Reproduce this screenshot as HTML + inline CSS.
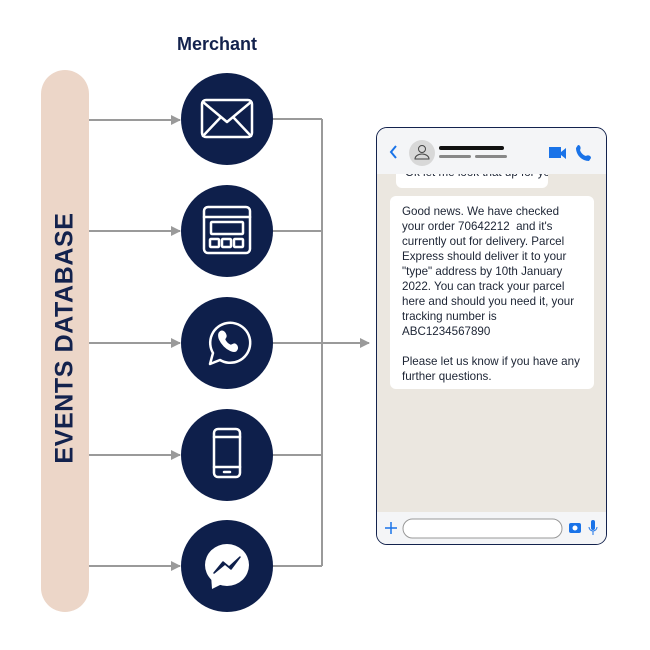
<!DOCTYPE html>
<html><head><style>
body{margin:0;width:650px;height:650px;background:#fff;position:relative;font-family:"Liberation Sans",sans-serif;overflow:hidden}
.bar{position:absolute;left:41px;top:70px;width:48px;height:542px;border-radius:24px;background:#ecd6c8}
.lbl{position:absolute;left:65px;top:338px;transform:translate(-50%,-50%) rotate(-90deg);white-space:nowrap;font-weight:bold;font-size:25px;color:#13224d;letter-spacing:0.6px}
.m{position:absolute;left:177px;top:34px;font-weight:bold;font-size:18px;color:#13224d}
.phone{position:absolute;left:376px;top:127px;width:229px;height:416px;border:1.5px solid #13224d;border-radius:11px;overflow:hidden;background:#ebe7e0}
.hdr{position:absolute;left:0;top:0;width:100%;height:46px;background:#f4f5f7;z-index:2}
.ftr{position:absolute;left:0;bottom:0;width:100%;height:32px;background:#f4f5f7}
.b1{position:absolute;left:19px;top:36px;width:152px;height:24px;background:#fff;border-radius:6px;overflow:hidden}
.b2{position:absolute;left:13px;top:68px;width:204px;height:193px;background:#fff;border-radius:6px;font-size:11.6px;line-height:15px;color:#1c2434;padding:8px 0 0 12px;box-sizing:border-box;white-space:nowrap}
</style></head><body>
<div class="bar"></div><div class="lbl">EVENTS DATABASE</div>
<div class="m">Merchant</div>
<svg width="650" height="650" style="position:absolute;left:0;top:0">
<defs><marker id="a" markerWidth="10" markerHeight="10" refX="9" refY="5" orient="auto" markerUnits="userSpaceOnUse"><path d="M0,0L10,5L0,10z" fill="#9a9a9a"/></marker></defs>
<g stroke="#9a9a9a" stroke-width="2" fill="none">
<line x1="89" y1="120" x2="180" y2="120" marker-end="url(#a)"/>
<line x1="89" y1="231" x2="180" y2="231" marker-end="url(#a)"/>
<line x1="89" y1="343" x2="180" y2="343" marker-end="url(#a)"/>
<line x1="89" y1="455" x2="180" y2="455" marker-end="url(#a)"/>
<line x1="89" y1="566" x2="180" y2="566" marker-end="url(#a)"/>
<path d="M272 119H322M272 231H322M272 343H322M272 455H322M272 566H322M322 119V566"/>
<line x1="322" y1="343" x2="369" y2="343" marker-end="url(#a)"/>
</g>
<g fill="#0e1f4b"><circle cx="227" cy="119" r="46"/><circle cx="227" cy="231" r="46"/><circle cx="227" cy="343" r="46"/><circle cx="227" cy="455" r="46"/><circle cx="227" cy="566" r="46"/></g>
<g stroke="#fff" stroke-width="2.5" fill="none" stroke-linecap="round" stroke-linejoin="round">
<rect x="202" y="100" width="50" height="37" rx="4"/><path d="M203 102L227 122L251 102M203 136L220 118M251 136L234 118"/>
<rect x="204" y="207" width="46" height="46" rx="4"/><path d="M204 217H250"/><rect x="211" y="222" width="32" height="12" rx="1"/><rect x="210" y="239" width="9" height="8" rx="1"/><rect x="222" y="239" width="9" height="8" rx="1"/><rect x="234" y="239" width="9" height="8" rx="1"/>
<path d="M210 364L213 353A20 20 0 1 1 220 360Z"/>
<path d="M219 333c3-4 6-1 7 2s-2 3-1 5 3 4 5 5 3-2 5-1 4 4 1 7c-6 3-20-10-17-18z" fill="#fff" stroke-width="1"/>
<rect x="214" y="429" width="26" height="48" rx="4"/><path d="M214 437H240M214 467H240M224 472H230"/>
</g>
<g fill="#fff"><ellipse cx="227" cy="565" rx="22" ry="21"/><path d="M211 575L212 589L222 584Z"/></g>
<path d="M214 573L223 562L229 567L240 557L231 569L225 564Z" fill="#0e1f4b" stroke="#0e1f4b" stroke-width="1.5" stroke-linejoin="round"/>
</svg>
<div class="phone">
<div class="hdr">
<svg width="229" height="46"><path d="M19 18l-5 6 5 6" stroke="#1a73e8" stroke-width="2" fill="none"/><circle cx="45" cy="25" r="13" fill="#d8d8d8"/><circle cx="45" cy="21" r="3.5" stroke="#444" fill="none"/><path d="M38 31a7 5 0 0 1 14 0z" stroke="#444" fill="none"/><rect x="62" y="18" width="65" height="4" rx="2" fill="#111"/><rect x="62" y="27" width="32" height="3" rx="1.5" fill="#888"/><rect x="98" y="27" width="32" height="3" rx="1.5" fill="#888"/><rect x="172" y="19" width="12" height="11" fill="#1a73e8"/><path d="M184 24l5-4v11l-5-4z" fill="#1a73e8"/><path d="M201 17c3 0 3 4 2 5 1 3 3 5 6 6 1-1 5-1 5 2l-2 3c-7 0-13-6-13-13z" fill="#1a73e8"/></svg>
</div>
<div class="b1"><div style="font-size:11.6px;color:#1c2434;position:absolute;left:9px;top:2px;white-space:nowrap">Ok let me look that up for you!</div></div>
<div class="b2">Good news. We have checked<br>your order 70642212&nbsp; and it's<br>currently out for delivery. Parcel<br>Express should deliver it to your<br>"type" address by 10th January<br>2022. You can track your parcel<br>here and should you need it, your<br>tracking number is<br>ABC1234567890<br><br>Please let us know if you have any<br>further questions.</div>
<div class="ftr"><svg width="229" height="32"><path d="M8 16h12M14 10v12" stroke="#1a73e8" stroke-width="1.5"/><rect x="26" y="7" width="159" height="19" rx="9.5" fill="#fff" stroke="#999"/><rect x="192" y="11" width="12" height="10" rx="2" fill="#1a73e8"/><circle cx="198" cy="16" r="2.5" fill="#fff"/><rect x="214" y="8" width="4" height="10" rx="2" fill="#1a73e8"/><path d="M212 15a4 4 0 0 0 8 0M216 19v4" stroke="#1a73e8" fill="none"/></svg></div>
</div>
</body></html>
